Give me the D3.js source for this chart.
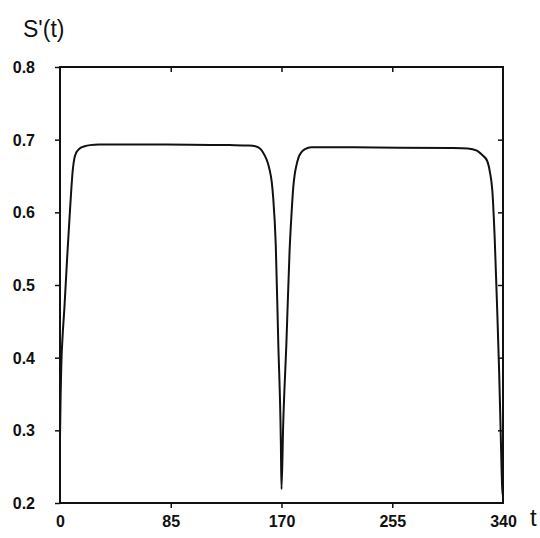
<!DOCTYPE html>
<html>
<head>
<meta charset="utf-8">
<script src="https://cdn.jsdelivr.net/npm/d3@7"></script>
<style>
  html, body { margin: 0; padding: 0; background: #ffffff; }
  svg { display: block; }
</style>
</head>
<body>
<script>
// ---- data ----
const tValues = [0, 0.5, 1, 2, 3.4, 5.5, 7.8, 9.9, 11, 12.4, 14, 16, 19, 23, 30, 60, 100, 130, 145, 150,
  154, 157.2, 159.5, 161, 162.5, 163.6, 165.6, 167.5, 169.5, 170,
  171.3, 173.8, 176.2, 177.7, 179, 180.2, 181.5, 183, 185.4, 188, 193, 220, 260, 300, 313,
  320, 324, 327.8, 330, 331.8, 333.7, 335.5, 337.1, 338.4, 339.4, 340];
const sValues = [0.29, 0.35, 0.39, 0.43, 0.469, 0.538, 0.607, 0.66, 0.674, 0.682, 0.686, 0.689, 0.691, 0.6925, 0.6935, 0.6935, 0.693, 0.6925, 0.692, 0.691,
  0.687, 0.678, 0.668, 0.6575, 0.642, 0.621, 0.555, 0.422, 0.284, 0.219,
  0.308, 0.422, 0.547, 0.598, 0.634, 0.653, 0.665, 0.675, 0.683, 0.687, 0.6895, 0.6895, 0.689, 0.6885, 0.688,
  0.685, 0.679, 0.671, 0.655, 0.630, 0.561, 0.468, 0.377, 0.284, 0.22, 0.21];
const xTickValues = [0, 85, 170, 255, 340];
const xTickLabels = ["0", "85", "170", "255", "340"];
const yTickValues = [0.2, 0.3, 0.4, 0.5, 0.6, 0.7, 0.8];
const yTickLabels = ["0.2", "0.3", "0.4", "0.5", "0.6", "0.7", "0.8"];
const yAxisTitle = "S'(t)";
const xAxisTitle = "t";

// ---- layout ----
const W = 540, H = 538;
const L = 60, R = 503, T = 67, B = 503;
const ink = "#111";

const svg = d3.select("body").append("svg").attr("width", W).attr("height", H);
svg.append("rect").attr("width", W).attr("height", H).attr("fill", "#fff");

const x = d3.scaleLinear().domain([0, 340]).range([L, R]);
const y = d3.scaleLinear().domain([0.2, 0.8]).range([B, T]);

const font = "'Liberation Sans', Arial, sans-serif";

// frame
svg.append("rect").attr("x", L).attr("y", T).attr("width", R - L).attr("height", B - T)
  .attr("fill", "none").attr("stroke", ink).attr("stroke-width", 2);

// left axis: ticks point outward (left), labels
const leftAxis = d3.axisLeft(y).tickValues(yTickValues).tickSize(5).tickPadding(20)
  .tickFormat((d, i) => yTickLabels[i]);
const gL = svg.append("g").attr("transform", `translate(${L},0)`).call(leftAxis);
gL.select(".domain").remove();
gL.selectAll(".tick line").attr("stroke", ink).attr("stroke-width", 1.5);
gL.selectAll(".tick text").attr("fill", ink).attr("font-family", font).attr("font-size", 16)
  .attr("font-weight", "bold").attr("dy", "0.35em");

// right axis ticks: inward
const rightAxis = d3.axisLeft(y).tickValues(yTickValues.slice(1, -1)).tickSize(5).tickFormat("");
const gR = svg.append("g").attr("transform", `translate(${R},0)`).call(rightAxis);
gR.select(".domain").remove();
gR.selectAll(".tick line").attr("stroke", ink).attr("stroke-width", 1.5);

// bottom axis: ticks point outward (down)
const bottomAxis = d3.axisBottom(x).tickValues(xTickValues).tickSize(5).tickPadding(8)
  .tickFormat((d, i) => xTickLabels[i]);
const gB = svg.append("g").attr("transform", `translate(0,${B})`).call(bottomAxis);
gB.select(".domain").remove();
gB.selectAll(".tick line").attr("stroke", ink).attr("stroke-width", 1.5)
  .attr("display", d => (d === 0 || d === 340) ? "none" : null);
gB.selectAll(".tick text").attr("fill", ink).attr("font-family", font).attr("font-size", 16)
  .attr("font-weight", "bold");

// top axis ticks: inward
const topAxis = d3.axisBottom(x).tickValues(xTickValues.slice(1, -1)).tickSize(5).tickFormat("");
const gT = svg.append("g").attr("transform", `translate(0,${T})`).call(topAxis);
gT.select(".domain").remove();
gT.selectAll(".tick line").attr("stroke", ink).attr("stroke-width", 1.5);

// curve
const pts = tValues.map((t, i) => [t, sValues[i]]);
const line = d3.line().x(d => x(d[0])).y(d => y(d[1])).curve(d3.curveMonotoneX);
svg.append("path").datum(pts).attr("d", line).attr("fill", "none")
  .attr("stroke", ink).attr("stroke-width", 2).attr("stroke-linejoin", "round");

// titles
svg.append("text").attr("x", 23).attr("y", 37).text(yAxisTitle)
  .attr("font-family", font).attr("font-size", 23).attr("fill", ink);
svg.append("text").attr("x", 530).attr("y", 526).text(xAxisTitle)
  .attr("font-family", font).attr("font-size", 24).attr("fill", ink);
</script>
</body>
</html>
